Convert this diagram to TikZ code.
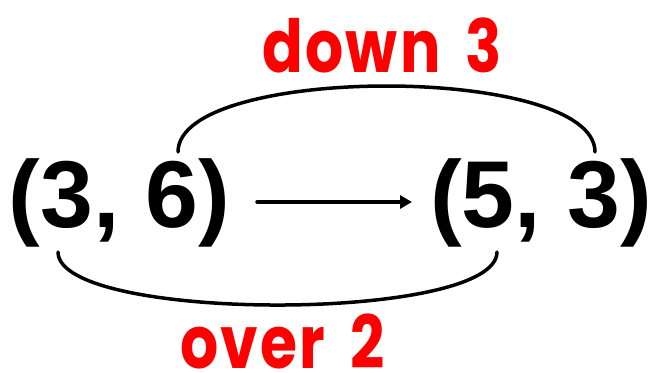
\documentclass[tikz,border=0pt]{standalone}
\usepackage{fontspec}
\setmainfont{Liberation Sans}
\newfontfamily\labelfont[LetterSpace=4]{Poppins}
\usetikzlibrary{arrows.meta}
\definecolor{lblred}{RGB}{255,0,0}
\newcommand{\tallred}[1]{\scalebox{1}[1.22]{#1}}
\tikzset{
  pt/.style={font=\fontsize{95}{95}\selectfont\bfseries, inner sep=0pt, anchor=base},
  lbl/.style={font=\labelfont\fontsize{60}{60}\selectfont\bfseries, text=lblred, inner sep=0pt, anchor=base},
  arc/.style={line width=3.5pt, line cap=round},
  arr/.style={line width=3.5pt, line cap=round, -{Triangle[length=12pt,width=13pt]}}
}
\begin{document}
\begin{tikzpicture}[x=1pt,y=-1pt]
\useasboundingbox (0,0) rectangle (652,372);
\node[pt] (A) at (119.5,227) {(3, 6)};
\node[pt] (B) at (541,227) {(5, 3)};
\node[lbl] (D) at (382,72) {\tallred{down\hspace{10pt} 3}};
\node[lbl] (O) at (282.5,368) {\tallred{over\hspace{10pt} 2}};
\coordinate (t1) at (178,152);
\coordinate (t2) at (595,152);
\coordinate (b1) at (58,252);
\coordinate (b2) at (497,252);
\coordinate (s) at (257,202);
\coordinate (e) at (412,202);
\draw[arr] (s) -- (e);
\draw[arc] (t1) .. controls (178,64) and (595,64) .. (t2);
\draw[arc] (b1) .. controls (58,322.7) and (497,322.7) .. (b2);
\end{tikzpicture}
\end{document}
